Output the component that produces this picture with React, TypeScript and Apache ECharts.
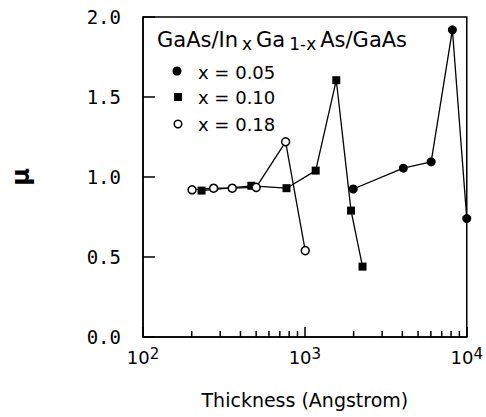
import React, { useEffect, useRef } from "react";
import * as echarts from "echarts";

// Data
const thicknessX05 = [1990, 4055, 6025, 8150, 10000];
const muX05 = [0.925, 1.055, 1.095, 1.92, 0.74];
const thicknessX10 = [230, 467, 770, 1166, 1563, 1928, 2270];
const muX10 = [0.915, 0.945, 0.93, 1.04, 1.605, 0.79, 0.44];
const thicknessX18 = [201, 273, 356, 500, 760, 1005];
const muX18 = [0.92, 0.93, 0.93, 0.935, 1.22, 0.54];
const legendLabels = ["x = 0.05", "x = 0.10", "x = 0.18"];
const minorTickValues = [200, 300, 400, 500, 600, 700, 800, 900, 2000, 3000, 4000, 5000, 6000, 7000, 8000, 9000];
const yTicks = [0, 0.5, 1.0, 1.5, 2.0];

const FONT = "DejaVu Sans";

const pairs = (xs: number[], ys: number[]) => xs.map((x, i) => [x, ys[i]]);

export default function App() {
  const ref = useRef<HTMLDivElement>(null);
  useEffect(() => {
    if (!ref.current) return;
    const chart = echarts.init(ref.current, null, { renderer: "svg" });
    const black = "#000";
    const option: any = {
      animation: false,
      backgroundColor: "#fff",
      grid: {
        left: 143,
        right: 13,
        top: 17,
        bottom: 80,
        show: true,
        borderColor: black,
        borderWidth: 1.5,
        backgroundColor: "transparent",
      },
      xAxis: {
        type: "log",
        logBase: 10,
        min: 100,
        max: 10000,
        axisLine: { show: true, lineStyle: { color: black, width: 1.5 } },
        axisTick: { show: true, inside: true, length: 10, lineStyle: { color: black, width: 1.5 } },
        splitLine: { show: false },
        minorTick: { show: false },
        axisLabel: {
          margin: 9,
          color: black,
          formatter: (v: number) => `{b|10}{s|${Math.round(Math.log10(v))}}`,
          rich: {
            b: { fontFamily: FONT, fontSize: 18, lineHeight: 22, color: black },
            s: { fontFamily: FONT, fontSize: 15, lineHeight: 15, verticalAlign: "top", color: black },
          },
        },
        name: "Thickness (Angstrom)",
        nameLocation: "middle",
        nameGap: 53,
        nameTextStyle: { fontFamily: FONT, fontSize: 19, color: black },
      },
      yAxis: {
        type: "value",
        min: 0,
        max: 2,
        interval: 0.5,
        axisLine: { show: true, lineStyle: { color: black, width: 1.5 } },
        axisTick: { show: true, inside: true, length: 12, lineStyle: { color: black, width: 1.5 } },
        splitLine: { show: false },
        axisLabel: {
          margin: 22,
          color: black,
          fontFamily: "DejaVu Sans Mono",
          fontSize: 19,
          padding: [8, 0, 0, 0],
          customValues: yTicks,
          formatter: (v: number) => v.toFixed(1),
        },
        name: "μ",
        nameLocation: "middle",
        nameRotate: 90,
        nameGap: 110,
        nameTextStyle: { fontFamily: FONT, fontSize: 24, fontWeight: "bold", color: black },
      },
      series: [
        {
          type: "custom",
          silent: true,
          clip: false,
          encode: { x: 0, y: 1 },
          data: minorTickValues.map((v) => [v, 0]),
          renderItem: (params: any, api: any) => {
            const p = api.coord([api.value(0), api.value(1)]);
            return {
              type: "line",
              shape: { x1: p[0], y1: p[1], x2: p[0], y2: p[1] - 6 },
              style: { stroke: black, lineWidth: 1.5 },
            };
          },
          z: 2,
        },
        {
          name: legendLabels[0],
          type: "line",
          data: pairs(thicknessX05, muX05),
          symbol: "circle",
          symbolSize: 9,
          clip: false,
          itemStyle: { color: black },
          lineStyle: { color: black, width: 1.3 },
          z: 3,
        },
        {
          name: legendLabels[1],
          type: "line",
          data: pairs(thicknessX10, muX10),
          symbol: "rect",
          symbolSize: 8,
          clip: false,
          itemStyle: { color: black },
          lineStyle: { color: black, width: 1.3 },
          z: 3,
        },
        {
          name: legendLabels[2],
          type: "line",
          data: pairs(thicknessX18, muX18),
          symbol: "circle",
          symbolSize: 8,
          clip: false,
          itemStyle: { color: "#fff", borderColor: black, borderWidth: 1.5 },
          lineStyle: { color: black, width: 1.3 },
          z: 4,
        },
      ],
      graphic: [
        {
          type: "text",
          left: 157,
          top: 29,
          z: 10,
          style: {
            text: "{n|GaAs/In}{s|x}{n|Ga}{s|1-x}{n|As/GaAs}",
            fill: black,
            rich: {
              n: { fontFamily: FONT, fontSize: 21, lineHeight: 26, color: black },
              s: { fontFamily: FONT, fontSize: 17, lineHeight: 16, verticalAlign: "bottom", padding: [0, 4, 0, 4], color: black },
            },
          },
        },
        { type: "circle", shape: { cx: 177, cy: 71, r: 4.5 }, style: { fill: black }, z: 10 },
        { type: "rect", shape: { x: 174, y: 93, width: 8, height: 8 }, style: { fill: black }, z: 10 },
        { type: "circle", shape: { cx: 178, cy: 124, r: 3.8 }, style: { fill: "#fff", stroke: black, lineWidth: 1.5 }, z: 10 },
        ...legendLabels.map((t, i) => ({
          type: "text",
          z: 10,
          style: {
            x: 198,
            y: [72, 97, 124][i],
            text: t,
            fill: black,
            fontFamily: FONT,
            fontSize: 18,
            verticalAlign: "middle",
          },
        })),
      ],
    };
    chart.setOption(option);
    return () => chart.dispose();
  }, []);
  return (
    <div
      ref={ref}
      style={{ position: "fixed", left: 0, top: 0, width: 486, height: 417, background: "#fff" }}
    />
  );
}
